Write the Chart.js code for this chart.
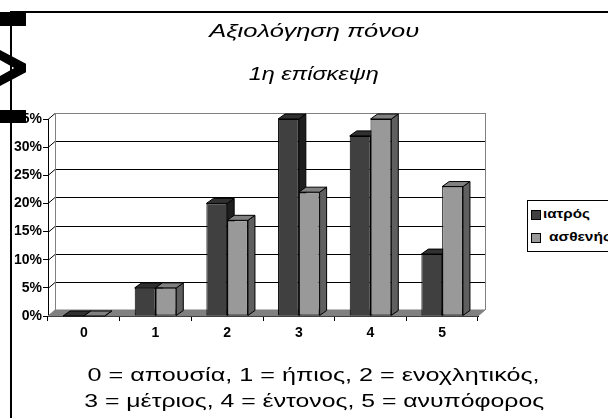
<!DOCTYPE html>
<html>
<head>
<meta charset="utf-8">
<script src="https://cdn.jsdelivr.net/npm/chart.js@4/dist/chart.umd.min.js"></script>
<style>
  html, body { margin: 0; padding: 0; background: #fff; }
  body { width: 608px; height: 418px; position: relative; overflow: hidden; font-family: "Liberation Sans", Arial, sans-serif; }
  #wrap { position: absolute; left: 0; top: 0; width: 608px; height: 418px; }
  .txt { position: absolute; text-align: center; color: #000; white-space: nowrap; left: 64px; width: 500px; }
  .txt span { display: inline-block; transform-origin: 50% 50%; }
  .title { font-style: italic; font-size: 19px; line-height: 24px; }
  .note { font-size: 19px; line-height: 24px; }
  .frameTop { position: absolute; left: 10px; top: 11px; width: 598px; height: 2px; background: #000; }
  .frameLeft { position: absolute; left: 10px; top: 11px; width: 2px; height: 407px; background: #000; }
  .blk { position: absolute; left: 0; width: 26px; background: #000; }
  .chev { position: absolute; left: 0; top: 50px; width: 26px; height: 36px; background: #000;
          clip-path: polygon(0 0, 100% 38%, 100% 62%, 0 100%, 0 72%, 55% 50%, 0 28%); }
  #legend { position: absolute; left: 527px; top: 200px; width: 100px; height: 50px; border: 1px solid #000; background: #fff;
            font-weight: bold; font-size: 13px; }
  #legend .item { position: absolute; height: 14px; line-height: 14px; white-space: nowrap; }
  #legend .key { position: absolute; left: 3px; width: 8px; height: 8px; border: 1px solid #000; }
  #legend .lbl { display: inline-block; transform-origin: 0 50%; }
</style>
</head>
<body>
<div id="wrap"><canvas id="c" width="608" height="418"></canvas></div>
<div class="frameTop"></div>
<div class="frameLeft"></div>
<div class="blk" style="top:12px;height:14px"></div>
<div class="chev"></div>
<div class="blk" style="top:110px;height:13px"></div>
<div class="txt title" style="top:19px"><span data-w="210">Αξιολόγηση πόνου</span></div>
<div class="txt title" style="top:62px"><span data-w="130">1η επίσκεψη</span></div>
<div id="legend">
  <div class="key" style="top:9px;background:#404040"></div>
  <div class="item" style="left:15px;top:6px"><span class="lbl" data-w="47">ιατρός</span></div>
  <div class="key" style="top:32px;background:#999999"></div>
  <div class="item" style="left:21px;top:29px"><span class="lbl" data-w="62">ασθενής</span></div>
</div>
<div class="txt note" style="top:363px"><span data-w="452">0 = απουσία, 1 = ήπιος, 2 = ενοχλητικός,</span></div>
<div class="txt note" style="top:389px"><span data-w="460">3 = μέτριος, 4 = έντονος, 5 = ανυπόφορος</span></div>
<script>
const categories = ['0', '1', '2', '3', '4', '5'];
const seriesNames = ['ιατρός', 'ασθενής'];
const doctorValues = [0, 5, 20, 35, 32, 11];
const patientValues = [0, 5, 17, 22, 35, 23];
const yTicks = [0, 5, 10, 15, 20, 25, 30, 35];

const frontColors = ['#404040', '#999999'];
const topColors = ['#303030', '#808080'];
const sideColors = ['#1e1e1e', '#5f5f5f'];

// the free text in the picture is wider than plain Arial, stretch it to the same width
function fitText() {
  document.querySelectorAll('[data-w]').forEach(el => {
    el.style.transform = 'none';
    const w = el.getBoundingClientRect().width;
    el.style.transform = 'scaleX(' + (parseFloat(el.dataset.w) / w).toFixed(3) + ')';
  });
}
fitText();
if (document.fonts) document.fonts.ready.then(fitText);

function poly(ctx, pts, fill) {
  ctx.beginPath();
  ctx.moveTo(pts[0][0], pts[0][1]);
  for (let i = 1; i < pts.length; i++) ctx.lineTo(pts[i][0], pts[i][1]);
  ctx.closePath();
  ctx.fillStyle = fill;
  ctx.fill();
  ctx.stroke();
}

// back wall, floor and the depth faces of the bars
const depth3d = {
  id: 'depth3d',
  beforeDatasetsDraw(chart) {
    const ctx = chart.ctx;
    const { left, right, top, bottom } = chart.chartArea;
    const y = chart.scales.y;
    const dx = 7, dy = 6;
    ctx.save();
    ctx.lineWidth = 1;

    // floor
    ctx.strokeStyle = '#808080';
    poly(ctx, [[left, bottom], [right, bottom], [right + dx, bottom - dy], [left + dx, bottom - dy]], '#808080');

    // grid on the wall
    yTicks.forEach(v => {
      if (v === 0) return;
      const py = Math.round(y.getPixelForValue(v)) + 0.5;
      ctx.strokeStyle = v === yTicks[yTicks.length - 1] ? '#808080' : '#000';
      ctx.beginPath();
      ctx.moveTo(left + dx, py - dy);
      ctx.lineTo(right + dx, py - dy);
      ctx.stroke();
      ctx.strokeStyle = '#000';
      ctx.beginPath();
      ctx.moveTo(left, py);
      ctx.lineTo(left + dx, py - dy);
      ctx.stroke();
    });
    ctx.strokeStyle = '#808080';
    ctx.beginPath();
    ctx.moveTo(left + dx + 0.5, top - dy);
    ctx.lineTo(left + dx + 0.5, bottom - dy);
    ctx.moveTo(right + dx + 0.5, top - dy);
    ctx.lineTo(right + dx + 0.5, bottom - dy);
    ctx.stroke();

    // bar sides and tops
    const bdx = 7, bdy = 5;
    ctx.strokeStyle = '#000';
    chart.data.datasets.forEach((ds, i) => {
      chart.getDatasetMeta(i).data.forEach(bar => {
        const p = bar.getProps(['x', 'y', 'base', 'width'], true);
        const x0 = p.x - p.width / 2, x1 = p.x + p.width / 2;
        poly(ctx, [[x1, p.y], [x1 + bdx, p.y - bdy], [x1 + bdx, p.base - bdy], [x1, p.base]], sideColors[i]);
        poly(ctx, [[x0, p.y], [x1, p.y], [x1 + bdx, p.y - bdy], [x0 + bdx, p.y - bdy]], topColors[i]);
      });
    });
    ctx.restore();
  }
};

const boldFont = { family: '"Liberation Sans", Arial, sans-serif', size: 14, weight: 'bold' };

new Chart(document.getElementById('c'), {
  type: 'bar',
  data: {
    labels: categories,
    datasets: [
      { label: seriesNames[0], data: doctorValues, backgroundColor: frontColors[0] },
      { label: seriesNames[1], data: patientValues, backgroundColor: frontColors[1] }
    ]
  },
  options: {
    responsive: false,
    animation: false,
    events: [],
    layout: { padding: { left: 0, top: 119, right: 130, bottom: 72 } },
    datasets: {
      bar: { borderColor: '#000', borderWidth: 1, borderSkipped: false, categoryPercentage: 0.58, barPercentage: 1 }
    },
    plugins: { legend: { display: false }, title: { display: false }, tooltip: { enabled: false } },
    scales: {
      x: {
        offset: true,
        grid: { drawOnChartArea: false, drawTicks: true, tickLength: 5, color: '#000', offset: true },
        border: { color: '#000' },
        ticks: { color: '#000', font: boldFont, padding: 4 },
        afterFit: s => { s.height = 30; }
      },
      y: {
        min: 0,
        max: 35,
        grid: { drawOnChartArea: false, tickLength: 5, color: '#000' },
        border: { color: '#000' },
        ticks: { stepSize: 5, color: '#000', font: boldFont, padding: 1, callback: v => v + '%' },
        afterFit: s => { s.width = 48; }
      }
    }
  },
  plugins: [depth3d]
});
</script>
</body>
</html>
